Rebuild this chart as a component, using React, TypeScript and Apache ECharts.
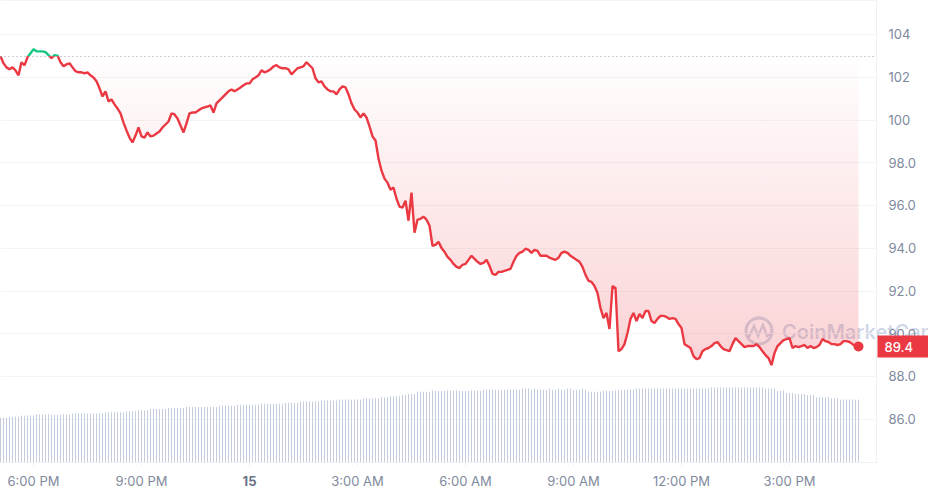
import React, { useEffect, useRef } from "react";
import * as echarts from "echarts";

// 5-minute slots starting at 5:05 PM (day 14) — grid reaches a little past the last price
const START_MINUTES = 17 * 60 + 5;
const STEP_MINUTES = 5;
const SLOT_COUNT = 293;
const FIRST_TICK_SLOT = 11;
const SLOTS_PER_TICK = 36;
const TICK_LABELS = ["6:00 PM", "9:00 PM", "15", "3:00 AM", "6:00 AM", "9:00 AM", "12:00 PM", "3:00 PM"];

const OPEN_PRICE = 102.97;
const LAST_PRICE = 89.4;

const PRICE = [
  102.97, 102.64, 102.45, 102.36, 102.45, 102.31, 102.08, 102.69, 102.55, 102.92,
  103.11, 103.30, 103.20, 103.20, 103.20, 103.16, 103.02, 102.88, 103.02, 103.00,
  102.69, 102.50, 102.59, 102.64, 102.45, 102.27, 102.22, 102.22, 102.17, 102.22,
  102.08, 101.98, 101.80, 101.47, 101.09, 101.33, 100.86, 100.95, 100.72, 100.53,
  100.30, 99.87, 99.50, 99.17, 98.94, 99.26, 99.64, 99.22, 99.17, 99.41,
  99.22, 99.26, 99.36, 99.45, 99.64, 99.78, 99.92, 100.30, 100.25, 100.06,
  99.73, 99.41, 99.83, 100.30, 100.34, 100.34, 100.44, 100.53, 100.58, 100.62,
  100.67, 100.34, 100.77, 100.91, 101.05, 101.19, 101.33, 101.42, 101.33, 101.42,
  101.51, 101.61, 101.70, 101.70, 101.89, 101.98, 102.08, 102.31, 102.22, 102.27,
  102.36, 102.50, 102.55, 102.45, 102.41, 102.41, 102.36, 102.12, 102.27, 102.41,
  102.45, 102.50, 102.69, 102.55, 102.41, 101.94, 101.75, 101.80, 101.56, 101.42,
  101.33, 101.33, 101.19, 101.42, 101.56, 101.51, 101.19, 100.77, 100.48, 100.34,
  100.11, 100.30, 100.11, 99.69, 99.22, 99.03, 98.19, 97.62, 97.25, 97.06,
  96.73, 96.83, 96.31, 95.94, 95.89, 96.22, 95.28, 96.59, 94.72, 95.33,
  95.37, 95.47, 95.33, 95.05, 94.11, 94.15, 94.29, 94.01, 93.83, 93.59,
  93.45, 93.26, 93.12, 93.07, 93.22, 93.26, 93.45, 93.64, 93.50, 93.36,
  93.26, 93.31, 93.45, 93.17, 92.80, 92.75, 92.89, 92.89, 92.94, 92.98,
  93.03, 93.36, 93.64, 93.78, 93.83, 93.97, 93.92, 93.78, 93.92, 93.87,
  93.64, 93.64, 93.64, 93.55, 93.50, 93.45, 93.55, 93.78, 93.83, 93.78,
  93.64, 93.55, 93.45, 93.36, 93.12, 92.75, 92.47, 92.42, 92.23, 91.90,
  91.20, 90.73, 90.97, 90.22, 92.23, 92.14, 89.18, 89.28, 89.51, 90.03,
  90.69, 90.97, 90.59, 90.92, 90.73, 91.06, 91.06, 90.59, 90.50, 90.69,
  90.83, 90.83, 90.78, 90.69, 90.73, 90.69, 90.45, 90.27, 89.51, 89.42,
  89.33, 88.95, 88.81, 88.86, 89.18, 89.28, 89.33, 89.42, 89.56, 89.61,
  89.42, 89.28, 89.23, 89.18, 89.51, 89.79, 89.65, 89.51, 89.37, 89.42,
  89.42, 89.42, 89.51, 89.37, 89.18, 89.00, 88.86, 88.53, 89.09, 89.42,
  89.56, 89.70, 89.75, 89.79, 89.33, 89.42, 89.37, 89.42, 89.47, 89.33,
  89.42, 89.33, 89.37, 89.47, 89.75, 89.65, 89.61, 89.51, 89.51, 89.47,
  89.51, 89.65, 89.65, 89.61, 89.51, 89.42, 89.40,
];

const VOLUME = [
  41, 41, 41, 42, 42, 42, 42, 43, 43, 43, 43, 43,
  44, 44, 44, 44, 44, 44, 44, 44, 44, 44, 44, 44,
  45, 45, 45, 45, 45, 45, 45, 45, 45, 45, 45,
  46, 46, 46, 46, 46, 46, 46, 47, 47, 47, 47, 48, 48, 48, 48,
  49, 49, 49, 49, 49, 49, 50, 50, 50, 50, 50, 50,
  51, 51, 51, 51, 51, 51, 51, 51, 51, 51, 51,
  52, 52, 52, 52, 52, 52, 53, 53, 53, 53, 53, 53, 53, 53,
  54, 54, 54, 54, 54, 54, 54, 54, 55, 55, 55, 55, 55,
  56, 56, 56, 56, 56, 56, 56, 57, 57, 57, 57, 57, 57,
  58, 58, 58, 58, 58, 58, 58, 58, 59, 59, 59, 59, 59, 59,
  60, 60, 60, 61, 61, 61, 61, 62, 62, 63, 63, 63,
  65, 65, 65, 65, 65,
  66, 66, 66, 66, 66, 66, 66, 66, 66, 66, 66, 66, 66, 66, 66, 66, 66,
  67, 67, 67, 67, 67, 67, 67, 67, 67, 67, 67, 67, 67,
  68, 68, 68, 67, 68, 67, 67, 67, 67, 68, 67, 67, 68, 67, 67, 68, 68, 67, 67, 67, 68, 67,
  65, 65, 65, 65, 65, 66, 66, 66, 66, 66, 67, 67, 67, 67, 67, 67,
  68, 68, 68, 68, 68, 68, 68, 68, 68, 68, 68, 68, 68, 68, 68, 68, 68, 68, 68, 68, 68, 68, 68, 68, 68,
  69, 69, 69, 69, 69, 69, 69, 69, 69, 69, 69, 69, 69, 69, 69, 69, 69, 69,
  68, 68, 68, 68, 66, 66, 66, 64, 64, 64, 63, 63, 63, 63, 62, 62, 62,
  60, 60, 60, 60, 60, 59, 59, 59, 58, 58, 58, 58, 58, 58, 58,
];

const CATEGORIES = Array.from({ length: SLOT_COUNT }, (_, i) => {
  const m = (START_MINUTES + i * STEP_MINUTES) % 1440;
  const h = Math.floor(m / 60);
  const mm = m % 60;
  return `${String(h).padStart(2, "0")}:${String(mm).padStart(2, "0")}`;
});

const isTickSlot = (index: number) =>
  index >= FIRST_TICK_SLOT && (index - FIRST_TICK_SLOT) % SLOTS_PER_TICK === 0;

export default function App() {
  const ref = useRef<HTMLDivElement>(null);

  useEffect(() => {
    if (!ref.current) return;
    const chart = echarts.init(ref.current, null, { renderer: "svg" });
    const watermark = "rgba(120,140,185,0.34)";

    chart.setOption({
      animation: false,
      textStyle: { fontFamily: "Inter, 'Noto Sans', sans-serif" },
      grid: { left: 0.5, right: 51.5, top: 0, bottom: 33, containLabel: false, outerBoundsMode: "none" },
      visualMap: {
        type: "piecewise",
        show: false,
        seriesIndex: 1,
        dimension: 1,
        pieces: [
          { gt: 0, lte: OPEN_PRICE, color: "#ea3943" },
          { gt: OPEN_PRICE, lte: 1000, color: "#16c784" },
        ],
        outOfRange: { color: "#ea3943" },
      },
      xAxis: {
        type: "category",
        data: CATEGORIES,
        boundaryGap: false,
        axisLine: { show: true, lineStyle: { color: "#eff2f5", width: 1 } },
        axisTick: {
          show: true,
          interval: (index: number) => isTickSlot(index),
          length: 4,
          lineStyle: { color: "#eff2f5" },
        },
        splitLine: { show: false },
        axisLabel: {
          interval: (index: number) => isTickSlot(index),
          margin: 12,
          color: "#808a9d",
          fontSize: 13,
          formatter: (_v: string, index: number) => {
            const t = TICK_LABELS[(index - FIRST_TICK_SLOT) / SLOTS_PER_TICK] || "";
            return t === "15" ? `{b|${t}}` : t;
          },
          rich: { b: { fontWeight: "bold", color: "#6b7386", fontSize: 13 } },
        },
      },
      yAxis: [
        {
          type: "value",
          position: "right",
          min: 84,
          max: 105.6,
          interval: 2,
          axisLine: { show: true, lineStyle: { color: "#eff2f5" } },
          axisTick: { show: false },
          splitLine: { show: true, lineStyle: { color: "#f3f4f6", width: 1 } },
          axisLabel: {
            margin: 12,
            color: "#808a9d",
            fontSize: 13,
            showMinLabel: false,
            showMaxLabel: false,
            formatter: (v: number) => (v >= 100 ? String(v) : v.toFixed(1)),
          },
        },
        { type: "value", min: 0, max: 428, show: false, splitLine: { show: false } },
      ],
      series: [
        {
          type: "bar",
          data: VOLUME,
          yAxisIndex: 1,
          barWidth: 1,
          silent: true,
          itemStyle: { color: "#c4cde0" },
          z: 1,
        },
        {
          type: "line",
          data: PRICE,
          showSymbol: false,
          symbol: "none",
          lineStyle: { width: 2.4 },
          areaStyle: {
            origin: OPEN_PRICE,
            color: new echarts.graphic.LinearGradient(0, 0, 0, 1, [
              { offset: 0, color: "rgba(234,57,67,0.0)" },
              { offset: 1, color: "rgba(234,57,67,0.32)" },
            ]),
          },
          z: 3,
          markLine: {
            silent: true,
            symbol: ["none", "none"],
            data: [
              {
                yAxis: OPEN_PRICE,
                lineStyle: { type: [1, 3], color: "#9aa3b3", width: 1 },
                label: { show: false },
              },
              {
                yAxis: LAST_PRICE,
                lineStyle: { color: "rgba(0,0,0,0)", width: 0 },
                label: {
                  show: true,
                  position: "end",
                  distance: 1,
                  formatter: String(LAST_PRICE),
                  color: "#ffffff",
                  fontWeight: 500,
                  backgroundColor: "#ea3943",
                  fontSize: 13,
                  padding: [5, 16, 4, 7],
                },
              },
            ],
          },
          markPoint: {
            silent: true,
            symbol: "circle",
            symbolSize: 10,
            itemStyle: { color: "#ea3943" },
            label: { show: false },
            data: [{ coord: [CATEGORIES[PRICE.length - 1], LAST_PRICE] }],
          },
        },
      ],
      graphic: [
        {
          type: "group",
          z: 100,
          silent: true,
          children: [
            {
              type: "circle",
              shape: { cx: 759, cy: 331, r: 13 },
              style: { fill: "none", stroke: watermark, lineWidth: 3 },
            },
            {
              type: "polyline",
              shape: { points: [[749, 337], [754, 326], [758, 336], [763, 325], [767, 336], [771, 333]] },
              style: { fill: "none", stroke: watermark, lineWidth: 2.5 },
            },
            {
              type: "text",
              x: 782,
              y: 332,
              style: {
                text: "CoinMarketCap",
                fill: watermark,
                fontSize: 20,
                fontWeight: 600,
                fontFamily: "Inter, sans-serif",
                verticalAlign: "middle",
              },
            },
          ],
        },
      ],
    });

    return () => chart.dispose();
  }, []);

  return (
    <div
      ref={ref}
      style={{ position: "fixed", left: 0, top: 0, width: 928, height: 495, background: "#fff" }}
    />
  );
}
